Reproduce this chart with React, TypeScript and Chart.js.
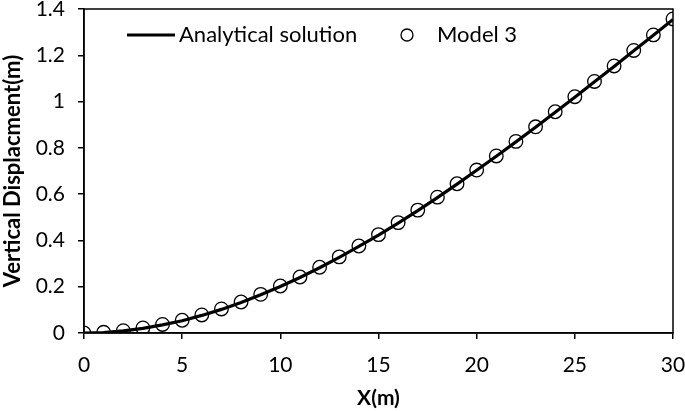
import React, { useEffect, useRef } from "react";
import { Chart, registerables } from "chart.js";

Chart.register(...registerables);

const xValues = [0, 1, 2, 3, 4, 5, 6, 7, 8, 9, 10, 11, 12, 13, 14, 15, 16, 17, 18, 19, 20, 21, 22, 23, 24, 25, 26, 27, 28, 29, 30];
const analytical = [0, 0.002, 0.009, 0.020, 0.035, 0.053, 0.076, 0.102, 0.132, 0.165, 0.201, 0.240, 0.282, 0.327, 0.374, 0.423, 0.475, 0.529, 0.585, 0.643, 0.703, 0.764, 0.826, 0.889, 0.954, 1.019, 1.086, 1.152, 1.220, 1.287, 1.355];
const model3 = [0, 0.003, 0.010, 0.022, 0.037, 0.055, 0.078, 0.104, 0.134, 0.167, 0.203, 0.242, 0.284, 0.329, 0.376, 0.425, 0.477, 0.531, 0.587, 0.645, 0.704, 0.765, 0.828, 0.891, 0.956, 1.021, 1.087, 1.154, 1.221, 1.288, 1.357];
const yTicks = [0, 0.2, 0.4, 0.6, 0.8, 1, 1.2, 1.4];
const xTicks = [0, 5, 10, 15, 20, 25, 30];

const FONT = "Lato, 'Open Sans', sans-serif";

const framePlugin = {
  id: "frame",
  afterDraw(chart: any) {
    const { ctx, chartArea } = chart;
    ctx.save();
    ctx.strokeStyle = "#000";
    ctx.lineWidth = 1.5;
    ctx.strokeRect(chartArea.left, chartArea.top, chartArea.right - chartArea.left, chartArea.bottom - chartArea.top);
    ctx.restore();
  },
};

const legendPlugin = {
  id: "customLegend",
  afterDraw(chart: any) {
    const { ctx } = chart;
    const ds = chart.data.datasets;
    ctx.save();
    ctx.fillStyle = "#000";
    ctx.strokeStyle = "#000";
    ctx.font = `22px ${FONT}`;
    ctx.textBaseline = "middle";
    ctx.textAlign = "left";
    const y = 35;
    ctx.lineWidth = 3;
    ctx.beginPath();
    ctx.moveTo(127, y);
    ctx.lineTo(175, y);
    ctx.stroke();
    ctx.fillText(ds[0].label, 179, y);
    ctx.lineWidth = 1.3;
    ctx.beginPath();
    ctx.arc(407, y, 6, 0, Math.PI * 2);
    ctx.stroke();
    ctx.fillText(ds[1].label, 437, y);
    ctx.restore();
  },
};

export default function App() {
  const ref = useRef<HTMLCanvasElement>(null);
  useEffect(() => {
    document.body.style.margin = "0";
    const canvas = ref.current!;
    const chart = new Chart(canvas, {
      type: "scatter",
      data: {
        datasets: [
          {
            label: "Analytical solution",
            data: xValues.map((x, i) => ({ x, y: analytical[i] })),
            showLine: true,
            borderColor: "#000",
            borderWidth: 3.2,
            pointRadius: 0,
            fill: false,
            order: 2,
          },
          {
            label: "Model 3",
            data: xValues.map((x, i) => ({ x, y: model3[i] })),
            showLine: false,
            borderColor: "#000",
            backgroundColor: "rgba(0,0,0,0)",
            borderWidth: 1.3,
            pointRadius: 6.8,
            pointStyle: "circle",
            order: 1,
          },
        ],
      },
      options: {
        animation: false,
        responsive: false,
        layout: { padding: { top: 9, right: 12, left: 0, bottom: 0 } },
        plugins: { legend: { display: false }, tooltip: { enabled: false } },
        scales: {
          x: {
            type: "linear",
            min: 0,
            max: 30,
            afterBuildTicks: (s: any) => {
              s.ticks = xTicks.map((v) => ({ value: v }));
            },
            afterFit: (s: any) => {
              s.height = 78;
              s.paddingLeft = 0;
              s.paddingRight = 0;
            },
            ticks: { color: "#000", font: { family: FONT, size: 21 }, padding: 14, maxRotation: 0 },
            grid: { drawOnChartArea: false, tickLength: 6, color: "#000", lineWidth: 1.5 },
            border: { color: "#000", width: 1.5 },
            title: {
              display: true,
              text: "X(m)",
              color: "#000",
              font: { family: FONT, size: 21, weight: "bold" },
              padding: { top: 0, bottom: 0 },
            },
          },
          y: {
            type: "linear",
            min: 0,
            max: 1.4,
            afterBuildTicks: (s: any) => {
              s.ticks = yTicks.map((v) => ({ value: v }));
            },
            afterFit: (s: any) => {
              s.width = 84;
              s.paddingTop = 0;
              s.paddingBottom = 0;
            },
            ticks: {
              color: "#000",
              font: { family: FONT, size: 21 },
              padding: 13,
              callback: (v: any) => String(Number(Number(v).toFixed(1))),
            },
            grid: { drawOnChartArea: false, tickLength: 6, color: "#000", lineWidth: 1.5 },
            border: { color: "#000", width: 1.5 },
            title: {
              display: true,
              text: "Vertical Displacment(m)",
              color: "#000",
              font: { family: FONT, size: 22, weight: "bold" },
              padding: { top: 0, bottom: 0 },
            },
          },
        },
      },
      plugins: [framePlugin, legendPlugin],
    });
    return () => chart.destroy();
  }, []);
  return (
    <div style={{ width: 685, height: 411 }}>
      <canvas ref={ref} width={685} height={411} style={{ width: 685, height: 411, display: "block" }} />
    </div>
  );
}
